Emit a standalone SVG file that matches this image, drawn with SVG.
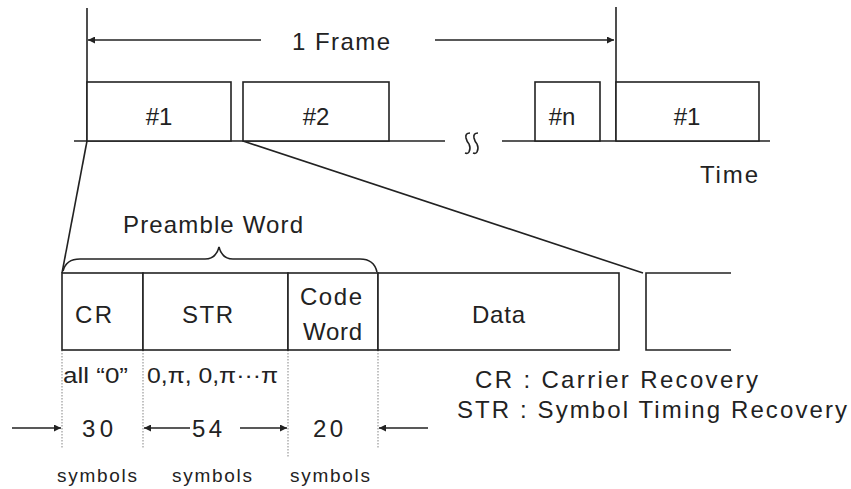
<svg xmlns="http://www.w3.org/2000/svg" width="851" height="489" viewBox="0 0 851 489">
<defs>
<style>
.ln{stroke:#222;stroke-width:1.6;fill:none}
.bx{stroke:#222;stroke-width:1.6;fill:#fff}
.dot{stroke:#9a9a9a;stroke-width:1.2;stroke-dasharray:1.5 1.5;fill:none}
.t{font-family:"Liberation Sans",Arial,sans-serif;font-size:24px;fill:#222}
.m{text-anchor:middle}
.s{font-size:19px}
.l{font-size:22px}
.g{font-size:24px}
</style>
<marker id="ah" viewBox="0 0 10 10" refX="10" refY="5" markerWidth="9" markerHeight="7" markerUnits="userSpaceOnUse" orient="auto">
<path d="M0,0 L10,5 L0,10 z" fill="#222"/>
</marker>
</defs>
<rect width="851" height="489" fill="#fff"/>

<g id="connectors">
<line class="ln" x1="87" y1="8" x2="87" y2="141"/>
<line class="ln" x1="616" y1="7" x2="616" y2="141"/>
<line class="ln" x1="261" y1="40" x2="88" y2="40" marker-end="url(#ah)"/>
<line class="ln" x1="435" y1="40" x2="614" y2="40" marker-end="url(#ah)"/>
<line class="ln" x1="74" y1="141" x2="445" y2="141"/>
<line class="ln" x1="502" y1="141" x2="770" y2="141"/>
<line class="ln" x1="87" y1="141" x2="62" y2="273"/>
<line class="ln" x1="243" y1="141" x2="643" y2="273"/>
<path class="ln" d="M63,271 Q66,259 80,259 L205,259 Q216,259 219,247 Q222,259 233,259 L360,259 Q374,259 377,272"/>
<line class="dot" x1="62" y1="350" x2="62" y2="448"/>
<line class="dot" x1="143" y1="350" x2="143" y2="448"/>
<line class="dot" x1="288" y1="350" x2="288" y2="458"/>
<line class="dot" x1="378" y1="350" x2="378" y2="448"/>
<line class="ln" x1="12" y1="428" x2="61" y2="428" marker-end="url(#ah)"/>
<line class="ln" x1="190" y1="428" x2="144" y2="428" marker-end="url(#ah)"/>
<line class="ln" x1="240" y1="428" x2="287" y2="428" marker-end="url(#ah)"/>
<line class="ln" x1="428" y1="428" x2="379" y2="428" marker-end="url(#ah)"/>
</g>

<g id="break-mark">
<path class="ln" stroke-width="1.4" d="M470,133 Q465,133 466,138 Q467,142 469,144 Q471,148 469,152 Q468,154 465,153"/>
<path class="ln" stroke-width="1.4" d="M478,133 Q473,133 474,138 Q475,142 477,144 Q479,148 477,152 Q476,154 473,153"/>
</g>

<text class="t" x="292" y="50" textLength="98" lengthAdjust="spacing">1  Frame</text>

<g id="slot1">
<rect class="bx" x="87" y="82" width="144" height="59"/>
<text class="t m" x="159" y="125">#1</text>
</g>
<g id="slot2">
<rect class="bx" x="243" y="82" width="146" height="59"/>
<text class="t m" x="316" y="125">#2</text>
</g>
<g id="slotn">
<rect class="bx" x="535" y="82" width="65" height="59"/>
<text class="t m" x="562" y="125">#n</text>
</g>
<g id="slot1b">
<rect class="bx" x="616" y="82" width="143" height="59"/>
<text class="t m" x="687" y="125">#1</text>
</g>
<text class="t" x="700" y="183" font-size="26" textLength="58" lengthAdjust="spacing">Time</text>

<text class="t" x="123" y="233" textLength="180" lengthAdjust="spacing">Preamble Word</text>

<g id="cr">
<rect class="bx" x="62" y="273" width="81" height="77"/>
<text class="t" x="75" y="323" textLength="37" lengthAdjust="spacing">CR</text>
</g>
<g id="str">
<rect class="bx" x="143" y="273" width="145" height="77"/>
<text class="t" x="182" y="323" textLength="51" lengthAdjust="spacing">STR</text>
</g>
<g id="codeword">
<rect class="bx" x="288" y="273" width="90" height="77"/>
<text class="t" x="300" y="305" textLength="62" lengthAdjust="spacing">Code</text>
<text class="t" x="303" y="340" textLength="59" lengthAdjust="spacing">Word</text>
</g>
<g id="data">
<rect class="bx" x="378" y="273" width="241" height="77"/>
<text class="t" x="472" y="323" textLength="53" lengthAdjust="spacing">Data</text>
</g>
<g id="next">
<path class="ln" d="M731,273 L646,273 L646,350 L731,350"/>
</g>

<text class="t l" x="63" y="383" textLength="65" lengthAdjust="spacingAndGlyphs">all “0”</text>
<text class="t l" x="147" y="383" textLength="131" lengthAdjust="spacingAndGlyphs">0,π, 0,π···π</text>

<text class="t" x="82" y="437" textLength="31" lengthAdjust="spacing">30</text>
<text class="t" x="192" y="437" textLength="30" lengthAdjust="spacing">54</text>
<text class="t" x="313" y="437" textLength="30" lengthAdjust="spacing">20</text>

<text class="t s" x="57" y="482" textLength="80" lengthAdjust="spacing">symbols</text>
<text class="t s" x="172" y="482" textLength="80" lengthAdjust="spacing">symbols</text>
<text class="t s" x="290" y="482" textLength="80" lengthAdjust="spacing">symbols</text>

<g id="legend">
<text class="t g" x="475" y="388" textLength="283" lengthAdjust="spacing">CR :  Carrier Recovery</text>
<text class="t g" x="457" y="418" textLength="390" lengthAdjust="spacing">STR :  Symbol Timing Recovery</text>
</g>
</svg>
